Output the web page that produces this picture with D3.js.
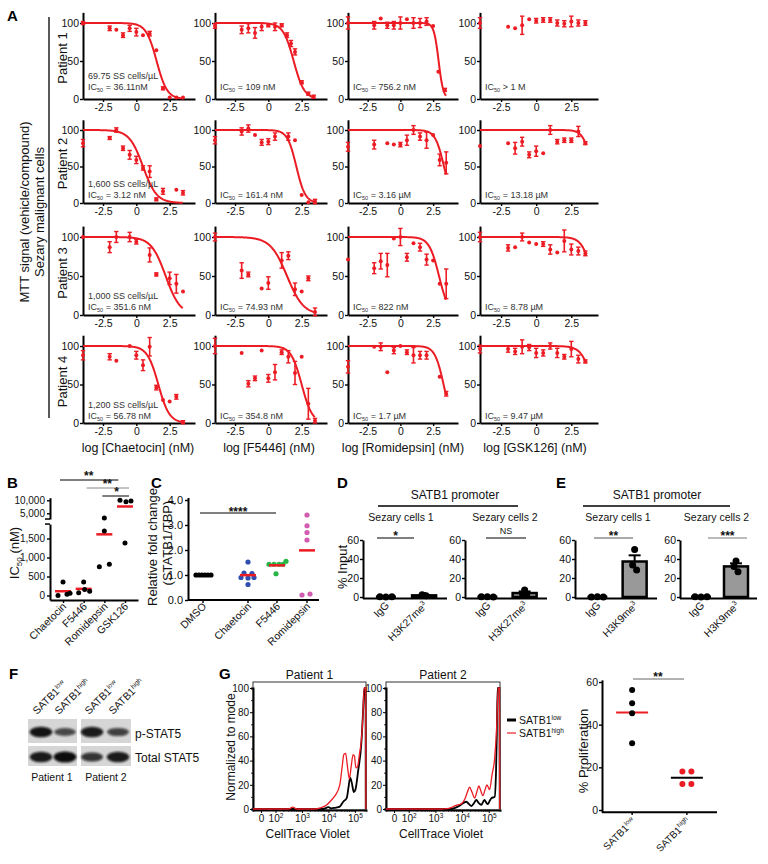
<!DOCTYPE html>
<html><head><meta charset="utf-8">
<script src="https://cdn.jsdelivr.net/npm/d3@7"></script>
<style>body{margin:0;background:#fff}</style></head>
<body><svg id="c" width="768" height="864"></svg>
<script>
// ================= DATA =================
// Panel A: [log dose (nM), % MTT signal, error]
const doseTicks = [-2.5, 0, 2.5];
const pctTicks = [0, 50, 100];
const aDrugs = ["Chaetocin", "F5446", "Romidepsin", "GSK126"];
const aPatients = ["Patient 1", "Patient 2", "Patient 3", "Patient 4"];
const p1Chaetocin = [[-4,100,2],[-2,93,3],[-1.5,91,0],[-1,84,3],[-0.5,93,4],[0,88,5],[0.5,84,0],[1,86,3],[1.5,64,0],[2,14,2],[2.5,2,0],[3,2,0],[3.5,2,0]];
const p1F5446 = [[-4,96,3],[-2,91,5],[-1.5,93,6],[-1,87,7],[-0.5,95,5],[0,97,2],[0.5,95,5],[1,97,2],[1.4,84,3],[1.7,73,4],[2,62,4],[2.5,22,2],[3,7,2],[3.4,3,2]];
const p1Romidepsin = [[-4,100,8],[-2,97,5],[-1.5,106,0],[-1,97,4],[-0.5,97,5],[0,100,8],[0.5,105,0],[1,100,7],[1.5,100,6],[2,102,5],[2.5,96,0],[2.9,36,0],[3.4,12,2]];
const p1GSK126 = [[-4,100,7],[-2,95,0],[-1.5,93,0],[-1,97,12],[-0.5,105,0],[0,103,3],[0.5,104,3],[1,104,3],[1.5,100,4],[2,99,4],[2.5,102,7],[3,100,4],[3.5,100,3]];
const p2Chaetocin = [[-4,82,5],[-2,89,2],[-1.5,100,3],[-1,75,3],[-0.5,66,6],[0,59,5],[0.5,48,3],[1,43,8],[1.5,5,2],[2,16,4],[3,18,0],[3.5,14,3]];
const p2F5446 = [[-4,86,5],[-2,98,5],[-1.5,102,5],[-1,93,0],[-0.5,83,4],[0,84,4],[0.5,91,5],[1.5,91,5],[2,86,0],[2.5,11,0],[3,1,0],[3.5,2,3]];
const p2Romidepsin = [[-4,77,6],[-2,80,6],[-1,82,0],[-0.5,80,0],[0,80,3],[0.5,86,7],[1,100,6],[1.5,91,5],[2,86,11],[2.5,93,0],[3,59,8],[3.5,55,15]];
const p2GSK126 = [[-4,78,0],[-2,82,0],[-1.5,75,8],[-1,84,6],[-0.5,66,4],[0,71,7],[0.5,68,0],[1,100,6],[1.5,84,3],[2,86,3],[2.5,86,3],[3,98,7],[3.5,82,2]];
const p3Chaetocin = [[-4,100,0],[-2,87,7],[-1.5,100,7],[-0.5,100,6],[0,94,3],[1,77,9],[1.5,52,2],[2.5,47,8],[3,40,12],[3.5,30,0]];
const p3F5446 = [[-4,100,5],[-2,57,10],[-1.5,52,3],[-0.5,34,0],[0,41,8],[1,70,10],[1.5,76,5],[2,33,8],[2.5,30,0],[3,47,3],[3.5,4,5]];
const p3Romidepsin = [[-4,71,0],[-2,60,7],[-1.5,69,10],[-1,64,15],[-0.5,98,0],[0,100,11],[0.5,74,5],[1,92,0],[1.5,87,5],[2,71,7],[2.5,70,0],[3,40,0],[3.5,40,19]];
const p3GSK126 = [[-4,100,6],[-2,86,4],[-1.5,87,0],[-1,100,5],[-0.5,93,0],[0,91,0],[0.5,91,3],[1,84,6],[1.5,80,0],[2,95,14],[2.5,84,7],[3,82,5],[3.5,79,3]];
const p4Chaetocin = [[-4,88,6],[-2,86,4],[-1.5,81,0],[-0.5,100,0],[0,88,5],[0.5,75,7],[1,99,12],[1.5,46,3],[2,30,0],[2.5,28,0],[3,34,3],[3.5,1,2]];
const p4F5446 = [[-4,100,10],[-2,91,0],[-1.5,51,4],[-1,58,3],[-0.5,94,0],[0,58,5],[0.5,66,10],[1,92,3],[1.5,86,8],[2,65,15],[2.5,86,0],[3,25,20],[3.5,3,3]];
const p4Romidepsin = [[-4,73,8],[-2,99,0],[-1.5,99,5],[-1,66,0],[-0.5,94,4],[0,100,0],[0.5,92,3],[1,88,10],[1.5,88,5],[2,88,5],[3,60,0],[3.5,38,3]];
const p4GSK126 = [[-4,96,5],[-2,96,4],[-1.5,93,4],[-1,99,9],[-0.5,98,4],[0,91,6],[0.5,91,4],[1,100,4],[1.5,91,6],[2,86,3],[2.5,96,10],[3,83,5],[3.5,80,2]];
// fitted curves (log IC50 midpoint, Hill slope); null = no fit drawn
const fitMid = [[1.52,1.9,2.92,null],[0.5,2.1,3.33,3.96],[2.2,1.4,2.95,4.0],[1.65,2.5,3.3,4.05]];
const fitHill = [[1.1,1.1,2.4,null],[0.85,1.3,1.3,1.45],[0.8,0.7,1.15,1.2],[1.05,1.1,1.3,1.1]];
const cellCounts = ["69.75 SS cells/µL","1,600 SS cells/µL","1,000 SS cells/µL","1,200 SS cells/µL"];
const ic50Labels = [["= 36.11nM","= 109 nM","= 756.2 nM","> 1 M"],["= 3.12 nM","= 161.4 nM","= 3.16 µM","= 13.18 µM"],["= 351.6 nM","= 74.93 nM","= 822 nM","= 8.78 µM"],["= 56.78 nM","= 354.8 nM","= 1.7 µM","= 9.47 µM"]];

// Panel B: IC50 (nM)
const bCats = ["Chaetocin","F5446","Romidepsin","GSK126"];
const bChaetocin = [352, 3, 36, 57];
const bF5446 = [355, 75, 161, 109];
const bRomidepsin = [756, 822, 1700, 3160];
const bGSK126 = [10000, 9400, 9700, 1380];
const bLowTicks = [0, 500, 1000, 1500];
const bHighTicks = [5000, 10000];

// Panel C: relative fold change
const cCats = ["DMSO","Chaetocin","F5446","Romidepsin"];
const cDMSO = [1, 1, 1, 1, 1, 1];
const cChaetocin = [1.52, 1.08, 1.06, 0.9, 0.88, 0.9, 0.62];
const cF5446 = [1.43, 1.43, 1.43, 1.43, 1.55, 1.05];
const cRomidepsin = [3.4, 2.97, 2.7, 2.4, 0.2, 0.24];
const cTicks = [0, 1, 2, 3, 4];

// Panels D/E: % input
const chipTicks = [0, 20, 40, 60];
const dIgG1 = [0.2, 0.1, 0.3], dH3K27me3_1 = [1.5, 2.5, 1.2];
const dIgG2 = [0.2, 0.3, 0.1], dH3K27me3_2 = [7.5, 3, 2];
const eIgG1 = [0.1, 0.2, 0.1], eH3K9me3_1 = [50, 33.7, 28.4];
const eIgG2 = [0.2, 0.1, 0.3], eH3K9me3_2 = [37.9, 32, 26.7];

// Panel F: western blot band intensity (0-1) per lane [P1 low, P1 high, P2 low, P2 high]
const blotPSTAT5 = [0.95, 0.55, 0.9, 0.6];
const blotTotalSTAT5 = [0.9, 1.0, 0.7, 0.9];

// Panel G: CellTrace Violet histograms [log10 intensity, % of mode]
const g1Low = [[1.15,0],[3.8,0],[4.0,1.5],[4.1,0.5],[4.25,1],[4.43,2],[4.56,6],[4.69,9],[4.76,18],[4.82,26],[4.88,22],[4.96,14],[5.02,16],[5.12,31],[5.25,56],[5.31,81],[5.36,100],[5.405,100],[5.41,0]];
const g1High = [[1.15,0],[2.5,0],[2.65,1.5],[2.8,0],[3.5,0],[3.7,1],[3.93,3.3],[4.1,7],[4.25,11],[4.43,20],[4.52,35],[4.58,45],[4.65,46],[4.72,35],[4.79,25],[4.86,35],[4.93,45],[4.98,44],[5.04,34],[5.1,35],[5.17,45],[5.25,58],[5.3,75],[5.35,100],[5.41,100],[5.415,0]];
const g2Low = [[1.15,0],[3.6,0],[3.8,1.5],[3.92,3],[4.05,5],[4.16,6],[4.26,4],[4.35,2.5],[4.45,5],[4.53,7.5],[4.62,5],[4.72,3.5],[4.79,6],[4.84,7.5],[4.9,5.5],[4.96,4],[5.04,7],[5.1,9],[5.22,10],[5.27,30],[5.3,60],[5.33,100],[5.4,100],[5.41,0]];
const g2High = [[1.15,0],[3.2,0],[3.5,0.5],[3.77,3],[3.95,4],[4.1,8],[4.2,14],[4.28,18],[4.37,14],[4.47,9],[4.55,14],[4.63,19],[4.7,15],[4.78,11],[4.86,16],[4.93,20],[4.98,18],[5.03,16],[5.12,28],[5.22,42],[5.3,70],[5.35,100],[5.4,100],[5.41,0]];
const histYTicks = [0, 20, 40, 60, 80, 100];
const histXTicks = [1.45, 2, 3, 4, 5];
const gProlifLow = [56.3, 50, 45.4, 31.3];
const gProlifHigh = [18, 18, 12.2, 12.2];
const gProlifTicks = [0, 20, 40, 60];

// ================= DRAWING =================
const FONT = '"Liberation Sans", Arial, Helvetica, sans-serif';
const RED = "#ec1c24";
const svg = d3.select("#c").attr("font-family", FONT);

function axisStyle(g, o = {}) {
  g.attr("font-family", FONT);
  g.select(".domain").attr("stroke", "#000").attr("stroke-width", o.sw || 2);
  g.selectAll(".tick line").attr("stroke", "#000").attr("stroke-width", o.tw || 1.4);
  g.selectAll(".tick text").attr("fill", "#111").attr("font-size", o.fs || 10.5);
  return g;
}
function txt(x, y, s, o = {}) {
  const t = svg.append("text").attr("x", x).attr("y", y)
    .attr("font-size", o.size || 11).attr("fill", o.fill || "#111")
    .attr("text-anchor", o.anchor || "start");
  if (o.weight) t.attr("font-weight", o.weight);
  if (o.rotate != null) t.attr("transform", `rotate(${o.rotate},${x},${y})`);
  if (s != null) t.text(s);
  return t;
}
function supLabel(t, base, sup, supSize, dy) {
  t.append("tspan").text(base);
  t.append("tspan").attr("font-size", supSize).attr("dy", -(dy || 4)).text(sup);
  return t;
}
function hline(x1, x2, y, o = {}) {
  svg.append("line").attr("x1", x1).attr("x2", x2).attr("y1", y).attr("y2", y)
    .attr("stroke", o.stroke || "#000").attr("stroke-width", o.sw || 1);
}
function vline(x, y1, y2, o = {}) {
  svg.append("line").attr("x1", x).attr("x2", x).attr("y1", y1).attr("y2", y2)
    .attr("stroke", o.stroke || "#000").attr("stroke-width", o.sw || 1);
}
const mean = a => d3.mean(a);
const sem = a => d3.deviation(a) / Math.sqrt(a.length);

// ---------- Panel labels
[["A", 7, 21], ["B", 7, 488], ["C", 151, 488], ["D", 337, 488], ["E", 556, 488], ["F", 9, 679], ["G", 219, 679]]
  .forEach(([s, x, y]) => txt(x, y, s, { size: 15, weight: "bold", fill: "#000" }));

// ---------- Panel A
const aColX = [[83, 195], [215, 327], [348, 458], [480, 598]];
const aRowY = [[99, 23], [203, 130], [315, 237], [423, 346]];
const aTextOff = [9, 5, 5, 4];
const aGrid = [
  [p1Chaetocin, p1F5446, p1Romidepsin, p1GSK126],
  [p2Chaetocin, p2F5446, p2Romidepsin, p2GSK126],
  [p3Chaetocin, p3F5446, p3Romidepsin, p3GSK126],
  [p4Chaetocin, p4F5446, p4Romidepsin, p4GSK126]];

aGrid.forEach((row, r) => row.forEach((pts, c) => {
  const [x0, x1] = aColX[c];
  const [z, h] = aRowY[r];
  const x = d3.scaleLinear([-4, 4.4], [x0, x1]);
  const y = d3.scaleLinear([0, 100], [z, h]);
  const yAx = d3.scaleLinear([0, 114], [z, y(114)]);
  axisStyle(svg.append("g").attr("transform", `translate(${x0},0)`)
    .call(d3.axisLeft(yAx).tickValues(pctTicks).tickSize(3).tickSizeOuter(0).tickPadding(1)));
  axisStyle(svg.append("g").attr("transform", `translate(0,${z})`)
    .call(d3.axisBottom(x).tickValues(doseTicks).tickFormat(d => String(d)).tickSize(3).tickSizeOuter(0).tickPadding(2)));
  const mid = fitMid[r][c];
  if (mid != null) {
    const hill = fitHill[r][c];
    const xs = d3.range(-4, 3.52, 0.04);
    svg.append("path")
      .attr("d", d3.line().x(d => x(d)).y(d => y(100 / (1 + Math.pow(10, (d - mid) * hill))))(xs))
      .attr("fill", "none").attr("stroke", RED).attr("stroke-width", 2);
  }
  const g = svg.append("g");
  pts.forEach(([dx, m, e]) => {
    if (e > 0) {
      g.append("line").attr("x1", x(dx)).attr("x2", x(dx)).attr("y1", y(m - e)).attr("y2", y(m + e))
        .attr("stroke", RED).attr("stroke-width", 1.6);
      [m - e, m + e].forEach(v => g.append("line").attr("x1", x(dx) - 2.2).attr("x2", x(dx) + 2.2)
        .attr("y1", y(v)).attr("y2", y(v)).attr("stroke", RED).attr("stroke-width", 1.4));
    }
    g.append("circle").attr("cx", x(dx)).attr("cy", y(m)).attr("r", 2).attr("fill", RED);
  });
  const ty = z - aTextOff[r];
  if (c === 0) txt(x0 + 5, ty - 11, cellCounts[r], { size: 9, fill: "#333" });
  const t = txt(x0 + 5, ty, null, { size: 9, fill: "#333" });
  t.append("tspan").text("IC");
  t.append("tspan").attr("font-size", 5.5).attr("dy", 2).text("50");
  t.append("tspan").attr("dy", -2).text(" " + ic50Labels[r][c]);
}));
aPatients.forEach((p, r) => {
  const cy = (aRowY[r][0] + aRowY[r][1]) / 2 - 3;
  txt(67, cy, p, { size: 13, anchor: "middle", rotate: -90, fill: "#111" });
});
aDrugs.forEach((d, c) => {
  const cx = [138, 269, 403, 535][c];
  txt(cx, 452, `log [${d}] (nM)`, { size: 12.5, anchor: "middle" });
});
vline(49, 17, 418, { sw: 1.3 });
txt(29, 212, "MTT signal (vehicle/compound)", { size: 13, anchor: "middle", rotate: -90 });
txt(44, 212, "Sezary malignant cells", { size: 13, anchor: "middle", rotate: -90 });

// ---------- Panel B
{
  const x = d3.scalePoint().domain(bCats).range([50, 138]).padding(0.63);
  const yL = d3.scaleLinear([0, 1500], [595.5, 538.5]);
  const yU = d3.scaleLinear([5000, 10000], [513.3, 500.3]);
  const yLax = yL.copy().domain([-120, 1880]).range([yL(-120), yL(1880)]);
  const yUax = yU.copy().domain([2800, 11000]).range([yU(2800), yU(11000)]);
  axisStyle(svg.append("g").attr("transform", "translate(50,0)")
    .call(d3.axisLeft(yLax).tickValues(bLowTicks).tickSize(3).tickSizeOuter(0).tickPadding(2)), { fs: 10 });
  axisStyle(svg.append("g").attr("transform", "translate(50,0)")
    .call(d3.axisLeft(yUax).tickValues(bHighTicks).tickSize(3).tickSizeOuter(0).tickPadding(2)), { fs: 10 });
  hline(45, 50, yU(2800), { sw: 1.5 });
  hline(45, 50, yLax(1880), { sw: 1.5 });
  axisStyle(svg.append("g").attr("transform", "translate(0,600)")
    .call(d3.axisBottom(x).tickSize(3).tickSizeOuter(0).tickFormat(() => "")));
  bCats.forEach(c => txt(x(c) + 4, 607, c, { size: 10.5, anchor: "end", rotate: -45 }));
  const yv = v => v > 1880 ? yU(v) : yL(v);
  const jit = [[0, -5, 4, 7], [0, -5, 1, 6], [-5, 5, 0, 0], [-5, 1, 6, 0]];
  [bChaetocin, bF5446, bRomidepsin, bGSK126].forEach((arr, i) => {
    const cx = x(bCats[i]);
    const m = mean(arr);
    hline(cx - 8, cx + 8, yv(m), { stroke: RED, sw: 2.5 });
    arr.forEach((v, j) => svg.append("circle").attr("cx", cx + jit[i][j]).attr("cy", yv(v)).attr("r", 2.5).attr("fill", "#000"));
  });
  const yl = txt(19, 553, null, { size: 13, anchor: "middle", rotate: -90 });
  yl.append("tspan").text("IC");
  yl.append("tspan").attr("font-size", 8).attr("dy", 3).text("50");
  yl.append("tspan").attr("dy", -3).text(" (nM)");
  hline(x("Chaetocin") - 3, x("Romidepsin") + 14, 480);
  txt((x("Chaetocin") + x("Romidepsin")) / 2 + 5, 480, "**", { size: 12, anchor: "middle", weight: "bold" });
  hline(x("F5446") + 3, x("GSK126") + 4, 488, { stroke: "#888" });
  txt((x("F5446") + x("GSK126")) / 2 + 3, 488, "**", { size: 12, anchor: "middle", weight: "bold" });
  hline(x("Romidepsin") - 2, x("GSK126") + 4, 496);
  txt((x("Romidepsin") + x("GSK126")) / 2 + 2, 496, "*", { size: 12, anchor: "middle", weight: "bold" });
}

// ---------- Panel C
{
  const x = d3.scaleOrdinal().domain(cCats).range([203, 248, 277, 307]);
  const y = d3.scaleLinear([0, 4], [600, 500]);
  axisStyle(svg.append("g").attr("transform", "translate(188,0)")
    .call(d3.axisLeft(y.copy().domain([0, 4.1]).range([600, y(4.1)])).tickValues(cTicks).tickSize(3).tickSizeOuter(0).tickPadding(2)), { fs: 11 });
  hline(188, 319, 600, { sw: 2 });
  cCats.forEach(c => { vline(x(c), 600, 603, { sw: 1.4 }); txt(x(c) + 4, 607, c, { size: 10.5, anchor: "end", rotate: -45 }); });
  const cols = ["#000", "#2f4fb0", "#27b546", "#d25cb0"];
  const jit = [[-7, -4, -1, 2, 5, 8], [0, -4, 4, -7, 0, 6, 0], [-8, -3, 2, 6, 9, -1], [0, 0, 0, 0, -5, 3]];
  [cDMSO, cChaetocin, cF5446, cRomidepsin].forEach((arr, i) => {
    const cx = x(cCats[i]);
    arr.forEach((v, j) => svg.append("circle").attr("cx", cx + jit[i][j]).attr("cy", y(v)).attr("r", 2.6).attr("fill", cols[i]));
    if (i > 0) hline(cx - 8, cx + 8, y(mean(arr)), { stroke: RED, sw: 2.5 });
    else hline(cx - 8, cx + 8, y(mean(arr)), { stroke: "#000", sw: 2.5 });
  });
  txt(157, 547, "Relative fold change", { size: 13, anchor: "middle", rotate: -90 });
  txt(172, 543, "(STATB1/TBP)", { size: 13, anchor: "middle", rotate: -90 });
  hline(200, 276, 513);
  txt(238, 516, "****", { size: 12, anchor: "middle", weight: "bold" });
}

// ---------- Panels D & E
function chipPlot(o) {
  const x = d3.scalePoint().domain(["IgG", o.ab]).range(o.xr).padding(0.6);
  const y = d3.scaleLinear([0, 60], [597, o.top]);
  axisStyle(svg.append("g").attr("transform", `translate(${o.xr[0]},0)`)
    .call(d3.axisLeft(y.copy().domain([-1.5, 60]).range([y(-1.5), y(60)])).tickValues(chipTicks).tickSize(3).tickSizeOuter(0).tickPadding(1)), { fs: 10.5 });
  hline(o.xr[0], o.xr[1], y(-1.5), { sw: 2 });
  [["IgG", o.igg], [o.ab, o.vals]].forEach(([k, arr], i) => {
    const cx = x(k), m = mean(arr), s = sem(arr);
    if (i === 1) {
      svg.append("rect").attr("x", cx - 12).attr("y", y(m)).attr("width", 24).attr("height", y(0) - y(m))
        .attr("fill", "#999").attr("stroke", "#000").attr("stroke-width", 2.5);
      vline(cx, y(m), y(m + s), { sw: 2 });
      hline(cx - 6, cx + 6, y(m + s), { sw: 2 });
      arr.forEach((v, j) => svg.append("circle").attr("cx", cx + [0, -2, 2][j]).attr("cy", y(v)).attr("r", 3.5).attr("fill", "#000"));
    } else {
      hline(cx - 10, cx + 10, y(m), { sw: 2.5 });
      arr.forEach((v, j) => svg.append("circle").attr("cx", cx + [-6, 0, 6][j]).attr("cy", y(v)).attr("r", 3.5).attr("fill", "#000"));
    }
    const t = txt(cx + 4, 606, null, { size: 10.5, anchor: "end", rotate: -45 });
    if (i === 0) t.text("IgG"); else supLabel(t, o.ab.slice(0, -1), "3", 7, 4);
  });
  txt((o.xr[0] + o.xr[1]) / 2 + o.labDx, 521, o.label, { size: 10.5, anchor: "middle" });
  hline(o.sig[0], o.sig[1], o.sigY, { stroke: o.sigCol || "#000" });
  const ns = o.sigTxt === "NS";
  txt((o.sig[0] + o.sig[1]) / 2, o.sigY - (ns ? 4 : -2), o.sigTxt, { size: ns ? 9 : 12, anchor: "middle", weight: ns ? null : "bold" });
}
chipPlot({ xr: [363, 447], top: 540, ab: "H3K27me3", igg: dIgG1, vals: dH3K27me3_1, label: "Sezary cells 1", labDx: -4, sig: [377, 414], sigY: 538, sigTxt: "*" });
chipPlot({ xr: [465, 547], top: 540, ab: "H3K27me3", igg: dIgG2, vals: dH3K27me3_2, label: "Sezary cells 2", labDx: -1, sig: [486, 526], sigY: 538, sigTxt: "NS" });
chipPlot({ xr: [575, 657], top: 540, ab: "H3K9me3", igg: eIgG1, vals: eH3K9me3_1, label: "Sezary cells 1", labDx: 2, sig: [594, 633], sigY: 538, sigTxt: "**", sigCol: "#555" });
chipPlot({ xr: [680, 757], top: 540, ab: "H3K9me3", igg: eIgG2, vals: eH3K9me3_2, label: "Sezary cells 2", labDx: -2, sig: [708, 747], sigY: 538, sigTxt: "***", sigCol: "#777" });
txt(455, 499, "SATB1 promoter", { size: 12, anchor: "middle" });
hline(378, 518, 506, { sw: 1.3 });
txt(657, 499, "SATB1 promoter", { size: 12, anchor: "middle" });
hline(583, 730, 506, { sw: 1.3 });
txt(347, 567, "% Input", { size: 13, anchor: "middle", rotate: -90 });

// ---------- Panel F (western blot)
{
  const defs = svg.append("defs");
  defs.append("filter").attr("id", "blur").attr("x", "-30%").attr("y", "-60%").attr("width", "160%").attr("height", "220%")
    .append("feGaussianBlur").attr("stdDeviation", 1.3);
  const lanes = d3.scaleOrdinal().domain([0, 1, 2, 3]).range([41, 65, 92, 118]);
  const blocks = [[28, 77], [81, 131]];
  const rows = [[719, 743, blotPSTAT5], [746, 766, blotTotalSTAT5]];
  rows.forEach(([y0, y1, vals]) => {
    blocks.forEach(([bx0, bx1]) => svg.append("rect").attr("x", bx0).attr("y", y0).attr("width", bx1 - bx0).attr("height", y1 - y0).attr("fill", "#d6d6d6"));
    vals.forEach((v, i) => {
      svg.append("ellipse").attr("cx", lanes(i)).attr("cy", (y0 + y1) / 2 + 1).attr("rx", 10 + 1.5 * v).attr("ry", 2 + 3.5 * v)
        .attr("fill", "#0a0a0a").attr("opacity", 0.35 + 0.65 * v).attr("filter", "url(#blur)");
    });
  });
  const labs = [["low", 37], ["high", 59], ["low", 89], ["high", 113]];
  labs.forEach(([s, x]) => supLabel(txt(x, 715, null, { size: 10.5, rotate: -45 }), "SATB1", s, 6.5, 4));
  txt(135, 738, "p-STAT5", { size: 12 });
  txt(135, 762, "Total STAT5", { size: 12 });
  txt(52, 781, "Patient 1", { size: 10.5, anchor: "middle" });
  txt(106, 781, "Patient 2", { size: 10.5, anchor: "middle" });
}

// ---------- Panel G histograms
{
  const y = d3.scaleLinear([0, 100], [809, 688]);
  const panels = [[[253, 366], "Patient 1", g1Low, g1High], [[386, 500], "Patient 2", g2Low, g2High]];
  panels.forEach(([xr, title, low, high]) => {
    const x = d3.scaleLinear([1.15, 5.42], xr);
    svg.append("rect").attr("x", xr[0]).attr("y", 682).attr("width", xr[1] - xr[0]).attr("height", 128)
      .attr("fill", "none").attr("stroke", "#333").attr("stroke-width", 1);
    const ga = svg.append("g").attr("transform", `translate(${xr[0]},0)`)
      .call(d3.axisLeft(y).tickValues(histYTicks).tickSize(3).tickSizeOuter(0).tickPadding(1));
    axisStyle(ga, { sw: 1, tw: 1, fs: 10 });
    const gm = svg.append("g").attr("transform", `translate(${xr[0]},0)`)
      .call(d3.axisLeft(y).tickValues(d3.range(10, 100, 20)).tickSize(2).tickFormat(() => ""));
    axisStyle(gm, { sw: 0, tw: 0.8 });
    const gx = svg.append("g").attr("transform", "translate(0,810)")
      .call(d3.axisBottom(x).tickValues(histXTicks).tickSize(3).tickSizeOuter(0).tickPadding(2));
    axisStyle(gx, { sw: 1, tw: 1, fs: 10 });
    gx.selectAll(".tick text").each(function (d) {
      const t = d3.select(this); t.text(null);
      if (d < 2) t.text("0");
      else { t.append("tspan").text("10"); t.append("tspan").attr("font-size", 6.5).attr("dy", -4).text(d); }
    });
    const minor = [];
    [2, 3, 4].forEach(dec => [2, 3, 4, 5, 6, 7, 8, 9].forEach(k => minor.push(dec + Math.log10(k))));
    const gmx = svg.append("g").attr("transform", "translate(0,810)")
      .call(d3.axisBottom(x).tickValues(minor.filter(v => v < 5.42)).tickSize(1.8).tickFormat(() => ""));
    axisStyle(gmx, { sw: 0, tw: 0.7 });
    const line = d3.line().x(d => x(d[0])).y(d => y(d[1])).curve(d3.curveMonotoneX);
    svg.append("path").attr("d", line(low)).attr("fill", "none").attr("stroke", "#000").attr("stroke-width", 1.8);
    svg.append("path").attr("d", line(high)).attr("fill", "none").attr("stroke", RED).attr("stroke-width", 1.3);
    txt((xr[0] + xr[1]) / 2, 679, title, { size: 12, anchor: "middle" });
    txt((xr[0] + xr[1]) / 2 - 2, 838, "CellTrace Violet", { size: 12, anchor: "middle" });
  });
  txt(235, 747, "Normalized to mode", { size: 12, anchor: "middle", rotate: -90 });
  hline(507, 516, 720, { sw: 3 });
  supLabel(txt(519, 724, null, { size: 10.5 }), "SATB1", "low", 6.5, 4);
  hline(507, 516, 733, { stroke: RED, sw: 1.2 });
  supLabel(txt(519, 737, null, { size: 10.5 }), "SATB1", "high", 6.5, 4);
}

// ---------- Panel G proliferation
{
  const cats = ["SATB1low", "SATB1high"];
  const x = d3.scalePoint().domain(cats).range([602, 717]).padding(0.55);
  const y = d3.scaleLinear([0, 60], [810, 682]);
  axisStyle(svg.append("g").attr("transform", "translate(602,0)")
    .call(d3.axisLeft(y.copy().domain([-1, 61]).range([y(-1), y(61)])).tickValues(gProlifTicks).tickSize(3).tickSizeOuter(0).tickPadding(1)), { fs: 10.5 });
  hline(602, 717, y(-1), { sw: 2 });
  const cl = x("SATB1low"), ch = x("SATB1high");
  hline(cl - 16, cl + 16, y(mean(gProlifLow)), { stroke: RED, sw: 2 });
  gProlifLow.forEach(v => svg.append("circle").attr("cx", cl).attr("cy", y(v)).attr("r", 3).attr("fill", "#000"));
  hline(ch - 16, ch + 16, y(mean(gProlifHigh)), { stroke: "#000", sw: 2 });
  gProlifHigh.forEach((v, j) => svg.append("circle").attr("cx", ch + (j % 2 ? 4.5 : -4.5)).attr("cy", y(v)).attr("r", 3).attr("fill", RED));
  [["low", cl], ["high", ch]].forEach(([s, cx]) => { vline(cx, 812, 815, { sw: 1.4 }); supLabel(txt(cx + 4, 822, null, { size: 10, anchor: "end", rotate: -45 }), "SATB1", s, 6.5, 4); });
  txt(588, 751, "% Proliferation", { size: 13, anchor: "middle", rotate: -90 });
  hline(633, 684, 679, { stroke: "#666" });
  txt(658, 681, "**", { size: 12, anchor: "middle", weight: "bold" });
}
</script></body></html>
